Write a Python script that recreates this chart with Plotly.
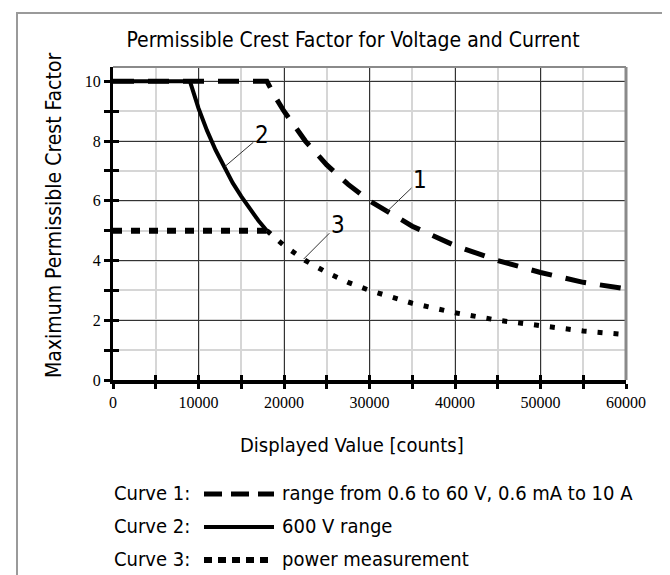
import plotly.graph_objects as go

# ---- data ----
curve1_x = [0, 18000, 19000, 20000, 22500, 25000, 27500, 30000, 35000, 40000, 45000, 50000, 55000, 60000]
curve1_y = [10, 10, 9.47, 9.0, 8.0, 7.2, 6.55, 6.0, 5.15, 4.5, 4.0, 3.6, 3.27, 3.05]

curve2_x = [0, 9000, 10000, 11000, 12000, 13000, 14000, 15000, 16000, 17000, 18000]
curve2_y = [10, 10, 9.1, 8.35, 7.7, 7.12, 6.6, 6.15, 5.72, 5.34, 5.0]

curve3_x = [0, 18000, 19000, 20000, 22500, 25000, 27500, 30000, 35000, 40000, 45000, 50000, 55000, 60000]
curve3_y = [5, 5, 4.74, 4.5, 4.0, 3.6, 3.27, 3.0, 2.57, 2.25, 2.0, 1.8, 1.64, 1.52]

x_ticks = [0, 10000, 20000, 30000, 40000, 50000, 60000]
x_tick_labels = ["0", "10000", "20000", "30000", "40000", "50000", "60000"]
y_ticks = [0, 2, 4, 6, 8, 10]
y_tick_labels = ["0", "2", "4", "6", "8", "10"]

title_text = "Permissible Crest Factor for Voltage and Current"
x_title = "Displayed Value [counts]"
y_title = "Maximum Permissible Crest Factor"
legend_names = ["Curve 1:", "Curve 2:", "Curve 3:"]
legend_texts = ["range from 0.6 to 60 V, 0.6 mA to 10 A", "600 V range", "power measurement"]

# curve labels: (text, label x, label y, pointed x, pointed y)
curve_labels = [("1", 35900, 6.7, 32000, 5.63),
                ("2", 17400, 8.2, 13100, 7.15),
                ("3", 26300, 5.2, 22300, 4.05)]

# ---- geometry ----
W, H = 670, 575
L, R, T, B = 105, 52, 59, 203
PW, PH = W - L - R, H - T - B

def px(p):
    return (p - L) / PW

def py(p):
    return (H - B - p) / PH

NARROW = "Liberation Sans Narrow, DejaVu Sans Condensed, Roboto, sans-serif"
SERIF = "Liberation Serif, DejaVu Serif, serif"

fig = go.Figure()

split3 = curve3_x.index(18000)

fig.add_trace(go.Scatter(x=curve1_x, y=curve1_y, mode="lines",
                         line=dict(color="black", width=5, dash="21px,14px"),
                         showlegend=False, hoverinfo="skip"))
fig.add_trace(go.Scatter(x=curve2_x, y=curve2_y, mode="lines",
                         line=dict(color="black", width=4),
                         showlegend=False, hoverinfo="skip"))
fig.add_trace(go.Scatter(x=curve3_x[:split3 + 1], y=curve3_y[:split3 + 1], mode="lines",
                         line=dict(color="black", width=6, dash="9px,9px"),
                         showlegend=False, hoverinfo="skip"))
fig.add_trace(go.Scatter(x=curve3_x[split3:], y=curve3_y[split3:], mode="lines",
                         line=dict(color="black", width=5, dash="5px,11px"),
                         showlegend=False, hoverinfo="skip"))
# dummy trace to create overlay axes (inside ticks -> crossing ticks)
fig.add_trace(go.Scatter(x=[None], y=[None], xaxis="x2", yaxis="y2",
                         showlegend=False, hoverinfo="skip"))

common_x = dict(range=[0, 60000], tickmode="array", tickvals=x_ticks, zeroline=False)
common_y = dict(range=[0, 10.48], tickmode="array", tickvals=y_ticks, zeroline=False)

fig.update_layout(
    width=W, height=H,
    margin=dict(l=L, r=R, t=T, b=B, pad=0),
    paper_bgcolor="white", plot_bgcolor="white",
    showlegend=False,
    title=dict(text=title_text, x=345 / W, xanchor="center", xref="container",
               y=1 - 32 / H, yanchor="middle",
               font=dict(family=NARROW, size=21, color="black")),
    xaxis=dict(**common_x, ticktext=x_tick_labels,
               showgrid=True, gridcolor="#333333", gridwidth=1,
               showline=True, linecolor="black", linewidth=4,
               ticks="outside", ticklen=5, tickwidth=3, tickcolor="black",
               tickfont=dict(family=SERIF, size=16, color="black"),
               minor=dict(dtick=5000, tick0=0, ticks="outside", ticklen=5, tickwidth=3,
                          tickcolor="black", showgrid=True, gridcolor="#d6d6d6", gridwidth=2)),
    yaxis=dict(**common_y, ticktext=y_tick_labels,
               showgrid=True, gridcolor="#333333", gridwidth=1,
               showline=True, linecolor="black", linewidth=3,
               ticks="outside", ticklen=6, tickwidth=3, tickcolor="black",
               tickfont=dict(family=SERIF, size=16, color="black"),
               minor=dict(dtick=1, tick0=0, ticks="outside", ticklen=6, tickwidth=3,
                          tickcolor="black", showgrid=True, gridcolor="#d6d6d6", gridwidth=2)),
    xaxis2=dict(**common_x, overlaying="x", anchor="y", side="bottom",
                showticklabels=False, showgrid=False, showline=False,
                ticks="inside", ticklen=5, tickwidth=3, tickcolor="black",
                minor=dict(dtick=5000, tick0=0, ticks="inside", ticklen=5, tickwidth=3,
                           tickcolor="black", showgrid=False)),
    yaxis2=dict(**common_y, overlaying="y", anchor="x", side="left",
                showticklabels=False, showgrid=False, showline=False,
                ticks="inside", ticklen=6, tickwidth=3, tickcolor="black",
                minor=dict(dtick=1, tick0=0, ticks="inside", ticklen=6, tickwidth=3,
                           tickcolor="black", showgrid=False)),
)

shapes = []
# plot border (top and right, gray)
shapes.append(dict(type="line", xref="paper", yref="paper", x0=0, x1=1, y0=1, y1=1,
                   line=dict(color="#8a8a8a", width=2)))
shapes.append(dict(type="line", xref="paper", yref="paper", x0=1, x1=1, y0=0, y1=1,
                   line=dict(color="#8a8a8a", width=3)))
# outer frame (bottom edge lies outside the page)
shapes.append(dict(type="rect", xref="paper", yref="paper",
                   x0=px(9), x1=px(662), y0=py(580), y1=py(5),
                   line=dict(color="#9a9a9a", width=2), layer="below"))

annotations = []
# axis titles
annotations.append(dict(text=x_title, xref="paper", yref="paper", x=px(344), y=py(437),
                        xanchor="center", yanchor="middle", showarrow=False,
                        font=dict(family=NARROW, size=20, color="black")))
annotations.append(dict(text=y_title, xref="paper", yref="paper", x=px(46), y=py(208),
                        xanchor="center", yanchor="middle", showarrow=False, textangle=-90,
                        font=dict(family=NARROW, size=21, color="black")))
# curve labels with leader lines
for txt, lx, ly, tx, ty in curve_labels:
    annotations.append(dict(text=txt, x=tx, y=ty, ax=lx, ay=ly, axref="x", ayref="y",
                            xref="x", yref="y", showarrow=True, arrowhead=0,
                            arrowwidth=1, arrowcolor="#333", standoff=0, startstandoff=0,
                            font=dict(family=NARROW, size=24, color="black")))

# custom legend
rows = [485, 518, 551]
samples = [dict(color="black", width=5, dash="18px,9px"),
           dict(color="black", width=4),
           dict(color="black", width=6, dash="8px,6px")]
for name, desc, ry, ls in zip(legend_names, legend_texts, rows, samples):
    annotations.append(dict(text=name, xref="paper", yref="paper", x=px(104), y=py(ry),
                            xanchor="left", yanchor="middle", showarrow=False,
                            font=dict(family=NARROW, size=20, color="black")))
    annotations.append(dict(text=desc, xref="paper", yref="paper", x=px(272), y=py(ry),
                            xanchor="left", yanchor="middle", showarrow=False,
                            font=dict(family=NARROW, size=20, color="black")))
    shapes.append(dict(type="line", xref="paper", yref="paper",
                       x0=px(196), x1=px(266), y0=py(ry + 1), y1=py(ry + 1), line=ls))

fig.update_layout(shapes=shapes, annotations=annotations)

fig.write_html("out.html")
